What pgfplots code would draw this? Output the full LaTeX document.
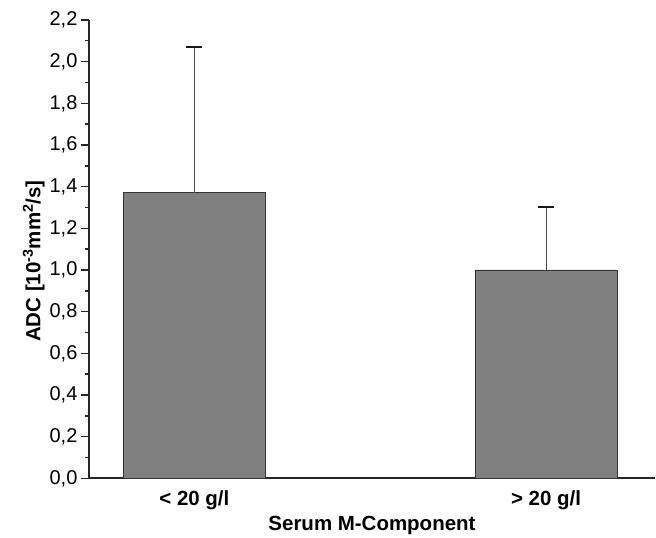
\documentclass[border=0pt]{standalone}
\usepackage{pgfplots}
\pgfplotsset{compat=1.18}
\usepackage{fontspec}
\setmainfont{Liberation Sans}
\setsansfont{Liberation Sans}

\definecolor{barfill}{HTML}{808080}
\definecolor{edge}{HTML}{333333}

\begin{document}
\begin{tikzpicture}
\begin{axis}[
  scale only axis,
  width=567pt, height=459pt,
  xmin=-0.3, xmax=1.31,
  ymin=0, ymax=2.2,
  axis x line=bottom, axis y line=left,
  axis line style={line width=1.8pt, color=black!85, -},
  xtick={0,1},
  xticklabels={\bfseries < 20 g/l, \bfseries > 20 g/l},
  x tick style={draw=none},
  xticklabel style={font=\fontsize{20.5}{24}\selectfont, yshift=-1pt},
  ytick={0,0.2,...,2.2},
  minor y tick num=1,
  y tick label style={/pgf/number format/.cd, fixed, fixed zerofill, precision=1, use comma, /tikz/.cd, font=\fontsize{20}{24}\selectfont},
  /pgf/number format/assume math mode=true,
  tick align=outside,
  major tick length=8pt, minor tick length=4pt,
  every tick/.style={line width=1.4pt, color=black!85},
  xlabel={\bfseries Serum M-Component},
  ylabel={\bfseries ADC [10\textsuperscript{-3}mm\textsuperscript{2}/s]},
  label style={font=\fontsize{20.5}{24}\selectfont},
  xlabel style={yshift=1pt},
  ylabel style={yshift=-2pt, xshift=-12pt},
  clip=false,
]
\addplot[ybar, bar width=0.403, fill=barfill, draw=edge, line width=0.9pt,
  error bars/.cd, y dir=plus, y explicit,
  error bar style={line width=1pt, color=black!70},
  error mark options={rotate=90, mark size=8pt, line width=2pt, color=black!90}]
  coordinates {
  (0,1.37) +- (0,0.70)
  (1,1.00) +- (0,0.30)
};
\end{axis}
\path ([shift={(-89pt,-55pt)}]current axis.south west) rectangle ([shift={(0pt,20pt)}]current axis.north east);
\end{tikzpicture}
\end{document}
